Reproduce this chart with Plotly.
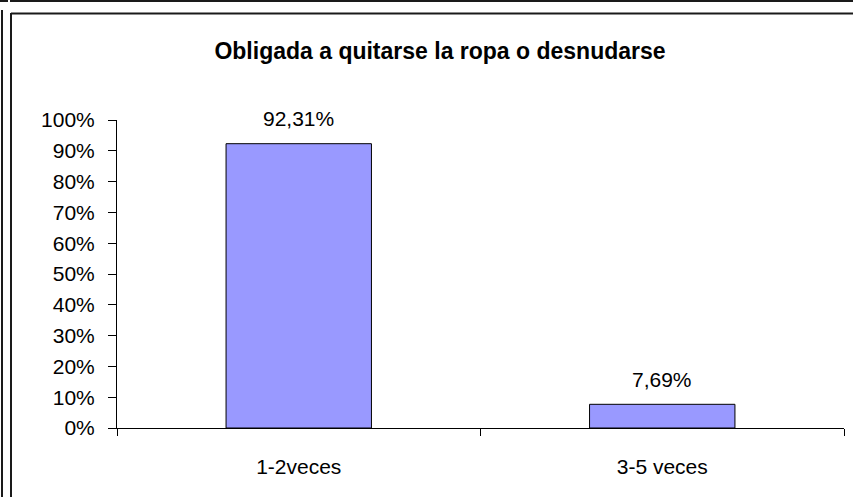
import plotly.graph_objects as go

categories = ["1-2veces", "3-5 veces"]
values = [0.9231, 0.0769]
title_text = "Obligada a quitarse la ropa o desnudarse"

W, H = 853, 497
L, R, T, B = 117, 9, 120, 69
FONT = "Liberation Sans, Arial, sans-serif"
FS = 21

fig = go.Figure(go.Bar(
    x=categories, y=values,
    marker=dict(color="#9999FF", line=dict(color="black", width=1)),
    hoverinfo="x+y",
))

for c, v in zip(categories, values):
    fig.add_annotation(
        x=c, y=v, xref="x", yref="y",
        text=f"{v * 100:.2f}%".replace(".", ","),
        showarrow=False, yanchor="middle", xanchor="center", yshift=25,
        font=dict(family=FONT, size=FS, color="black"),
    )

def px2x(px):
    return (px - L) / (W - L - R)

def px2y(py):
    return (H - B - py) / (H - T - B)

line_style = dict(color="#1a1a1a", width=2)
shapes = [
    dict(type="line", xref="paper", yref="paper", x0=px2x(10), x1=px2x(860), y0=px2y(1), y1=px2y(1), line=line_style),
    dict(type="line", xref="paper", yref="paper", x0=px2x(2), x1=px2x(2), y0=px2y(10), y1=px2y(505), line=line_style),
    dict(type="line", xref="paper", yref="paper", x0=px2x(11), x1=px2x(860), y0=px2y(13.5), y1=px2y(13.5), line=line_style),
    dict(type="line", xref="paper", yref="paper", x0=px2x(11), x1=px2x(11), y0=px2y(13), y1=px2y(505), line=line_style),
    dict(type="line", xref="paper", yref="paper", x0=px2x(0), x1=px2x(8), y0=px2y(1), y1=px2y(1), line=line_style),
]

fig.update_layout(
    width=W, height=H,
    margin=dict(l=L, r=R, t=T, b=B),
    paper_bgcolor="white", plot_bgcolor="white",
    separators=",.",
    bargap=0.6,
    showlegend=False,
    font=dict(family=FONT, size=FS, color="black"),
    title=dict(text="<b>" + title_text + "</b>", x=440 / W, xref="container", xanchor="center",
               y=1 - 51 / H, yref="container", yanchor="middle",
               font=dict(family=FONT, size=23, color="black")),
    shapes=shapes,
    xaxis=dict(showline=True, linecolor="black", linewidth=1, ticks="outside", ticklen=7,
               tickcolor="black", tickson="boundaries", showgrid=False, ticklabelstandoff=20,
               tickfont=dict(size=FS)),
    yaxis=dict(range=[0, 1], dtick=0.1, tickformat=".0%", showline=True, linecolor="black",
               linewidth=1, ticks="outside", ticklen=8, tickcolor="black", showgrid=False,
               zeroline=False, ticklabelstandoff=9, tickfont=dict(size=FS)),
)

fig.write_html("out.html", config={"displayModeBar": False},
               post_script="document.body.style.margin='0';document.body.style.padding='0';")
